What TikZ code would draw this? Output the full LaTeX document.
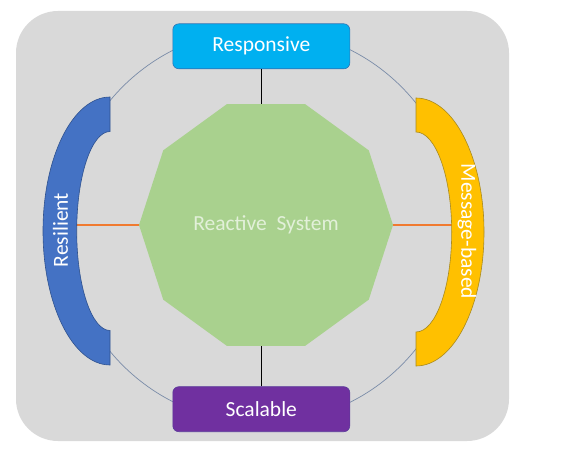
\documentclass[tikz,border=0pt]{standalone}
\usepackage{fontspec}
\setmainfont{Carlito}
\usetikzlibrary{shapes.geometric}
\usetikzlibrary{positioning}

\definecolor{bggray}{HTML}{D9D9D9}
\definecolor{ringline}{HTML}{7A8CA8}
\definecolor{respblue}{HTML}{00B0F0}
\definecolor{respedge}{HTML}{2E75B6}
\definecolor{scalpurple}{HTML}{7030A0}
\definecolor{scaledge}{HTML}{5A3A9A}
\definecolor{resilblue}{HTML}{4472C4}
\definecolor{resiledge}{HTML}{2F528F}
\definecolor{msgyellow}{HTML}{FFC000}
\definecolor{msgedge}{HTML}{A88A20}
\definecolor{sysgreen}{HTML}{A9D18E}
\definecolor{systext}{HTML}{E2F0D9}
\definecolor{spokeorange}{HTML}{F07A30}

\begin{document}
\begin{tikzpicture}[x=1pt,y=1pt,
  card/.style={rectangle,rounded corners=6,minimum width=177,minimum height=45,
    text=white,line width=0.6pt,font=\fontsize{21.5}{26}\selectfont},
  sysshape/.style={regular polygon,regular polygon sides=10,minimum size=254,
    fill=sysgreen,inner sep=0,outer sep=0,text=systext,font=\fontsize{21.5}{26}\selectfont},
  bandtext/.style={text=white,font=\fontsize{21.5}{26}\selectfont},
  stem/.style={black,line width=0.9pt},
  spoke/.style={draw=spokeorange,line width=1.1pt}]
\useasboundingbox (0,0) rectangle (564,453);
\fill[bggray,rounded corners=42] (16,12) rectangle (509,442);

%ring behind everything
\draw[ringline,line width=0.7pt] (262,227) circle (197);

\node[sysshape] (sys) at (266,228) {Reactive\ \ System};

\node[card,fill=respblue,draw=respedge] (resp) at (261.3,406.7) {Responsive};
\node[card,fill=scalpurple,draw=scaledge] (scal) at (261.3,43.8) {Scalable};

\node[bandtext,rotate=90] (resil) at (60.5,223) {Resilient};
\node[bandtext,rotate=-90] (msg) at (467,221.5) {Message-based};

\draw[stem] (resp.south) -- (resp.south |- sys.north);
\draw[stem] (scal.north) -- (scal.north |- sys.south);
\draw[spoke] (sys.west) -- (sys.west -| resil);
\draw[spoke] (sys.east) -- (sys.east -| msg);

%side bands
\draw[fill=resilblue,draw=resiledge,line width=0.6pt] (110,356)
  arc[start angle=90,end angle=270,x radius=67,y radius=134] -- (110,122.5)
  arc[start angle=270,end angle=90,x radius=33.3,y radius=99.5] -- cycle;
\draw[fill=msgyellow,draw=msgedge,line width=0.6pt] (416,355)
  arc[start angle=90,end angle=-90,x radius=68,y radius=134] -- (416,121)
  arc[start angle=-90,end angle=90,x radius=35.7,y radius=100] -- cycle;
\node[bandtext,rotate=90] at (resil) {Resilient};
\node[bandtext,rotate=-90] at (msg) {Message-based};
\end{tikzpicture}
\end{document}
